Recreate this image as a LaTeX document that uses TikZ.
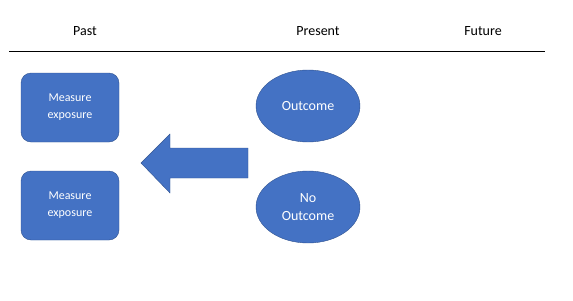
\documentclass[tikz,border=0pt]{standalone}
\usepackage{fontspec}
\setmainfont{Carlito}
\usetikzlibrary{shapes.geometric}

\definecolor{fillblue}{HTML}{4472C4}
\definecolor{edgeblue}{HTML}{2F528F}

\begin{document}
\begin{tikzpicture}[x=1pt,y=-1pt,
  period/.style={font=\fontsize{14}{16}\selectfont},
  measure/.style={draw=edgeblue,fill=fillblue,text=white,rounded corners=10pt,
    minimum width=98pt,minimum height=69pt,align=center,
    font=\fontsize{12}{17}\selectfont},
  outcome/.style={ellipse,draw=edgeblue,fill=fillblue,text=white,inner sep=0pt,
    minimum width=104pt,minimum height=72pt,align=center,
    font=\fontsize{14}{18}\selectfont}]
  \useasboundingbox (0,0) rectangle (573,300);

  % time line
  \node[period] (past)    at (85,31)  {Past};
  \node[period] (present) at (318,31) {Present};
  \node[period] (future)  at (483,31) {Future};
  \coordinate (start) at (9,51);
  \coordinate (end)   at (545,51);
  \draw[line width=1pt] (start) -- (end);

  \node[measure] (exp1) at (70,107.5) {Measure\\exposure};
  \node[measure] (exp2) at (70,205.5) {Measure\\exposure};

  \node[outcome] (out)   at (308,106) {Outcome};
  \node[outcome] (noout) at (308,207) {No\\Outcome};

  % looking back
  \draw[draw=edgeblue,fill=fillblue] (141,163) -- (170,134) -- (170,148) -- (248,148)
    -- (248,178) -- (170,178) -- (170,193) -- cycle;
\end{tikzpicture}
\end{document}
